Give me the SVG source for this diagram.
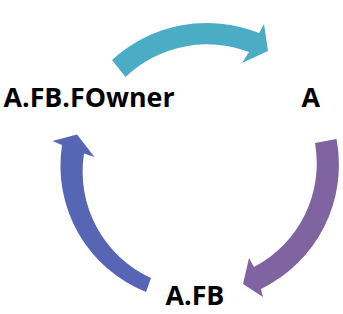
<svg xmlns="http://www.w3.org/2000/svg" width="343" height="314" viewBox="0 0 343 314">
<style>
.lbl{font-family:"Open Sans","Noto Sans","DejaVu Sans",sans-serif;font-weight:700;font-size:26.8px;fill:#000}
</style>
<rect width="343" height="314" fill="#fff"/>
<g id="connectors">
<path id="arrow-top" fill="#4BACC6" d="M112,60 A140,140 0 0 1 259,33 L264,24 L268,51 L242,63 L249,52 A118,118 0 0 0 125.5,77 Z"/>
<path id="arrow-right" fill="#8064A2" d="M336.5,139 A138,138 0 0 1 261,289 L263,297 L243,284 L249,258 L254,267 A117,117 0 0 0 315,143 Z"/>
<path id="arrow-left" fill="#5765B5" d="M146,292 A136,136 0 0 1 62,145 L52.5,141 L77,134.5 L94.5,157 L84,153.5 A117,117 0 0 0 151,278 Z"/>
</g>
<g id="node-owner"><text class="lbl" x="3.5" y="107">A.FB.FOwner</text></g>
<g id="node-a"><text class="lbl" x="301.5" y="106.5">A</text></g>
<g id="node-afb"><text class="lbl" x="165.5" y="305">A.FB</text></g>
</svg>
